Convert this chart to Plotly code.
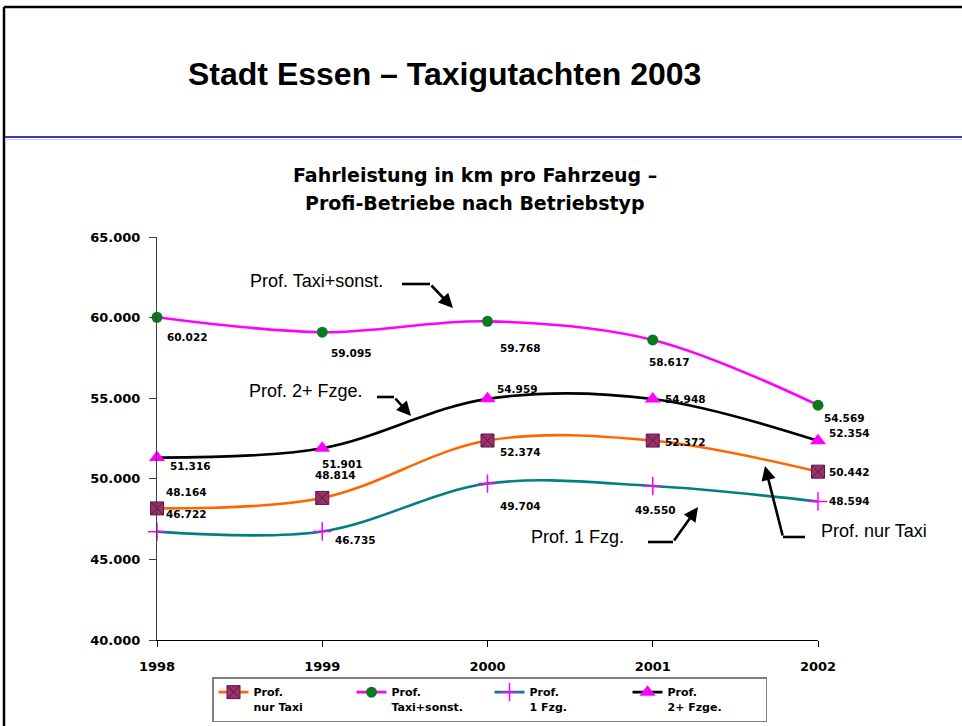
import plotly.graph_objects as go

# ---------------- data ----------------
years = [1998, 1999, 2000, 2001, 2002]
nur_taxi = [48164, 48814, 52374, 52372, 50442]
taxi_sonst = [60022, 59095, 59768, 58617, 54569]
fzg_1 = [46722, 46735, 49704, 49550, 48594]
fzge_2 = [51316, 51901, 54959, 54948, 52354]
series_names = ["Prof.<br>nur Taxi", "Prof.<br>Taxi+sonst.", "Prof.<br>1 Fzg.", "Prof.<br>2+ Fzge."]
y_ticks = [40000, 45000, 50000, 55000, 60000, 65000]
main_title = "Stadt Essen – Taxigutachten 2003"
chart_title_lines = ["Fahrleistung in km pro Fahrzeug –", "Profi-Betriebe nach Betriebstyp"]
callout_texts = ["Prof. Taxi+sonst.", "Prof. 2+ Fzge.", "Prof. 1 Fzg.", "Prof. nur Taxi"]

# ---------------- layout geometry (pixels) ----------------
W, H = 962, 726
L, R, T, B = 157, 144, 237, 86
PW, PH = W - L - R, H - T - B


def px(xp):
    return (xp - L) / PW


def py(yp):
    return (H - B - yp) / PH


BOLD = "DejaVu Sans"
SANS = "Liberation Sans, Arial, sans-serif"

# label offsets (xshift, yshift) per point, px
off_taxi = [(7, 16), (-9, 23), (10, -11), (10, -1), (9, 0)]
off_sonst = [(8, -20), (7, -21), (10, -27), (-6, -22), (4, -13)]
off_fzg1 = [(7, 18), (11, -9), (10, -22), (-20, -24), (9, 0)]
off_fzge2 = [(11, -8), (-2, -16), (7, 10), (10, 0), (9, 8)]

series = [
    dict(name=series_names[0], y=nur_taxi, color="#FF6600",
         marker=dict(symbol="square-x", size=13, color="#993366",
                     line=dict(color="#5A1450", width=1)), offs=off_taxi),
    dict(name=series_names[1], y=taxi_sonst, color="#FF00FF",
         marker=dict(symbol="circle", size=11, color="#0B7A1E",
                     line=dict(color="#0B7A1E", width=0)), offs=off_sonst),
    dict(name=series_names[2], y=fzg_1, color="#008080",
         marker=dict(symbol="cross-thin", size=13, color="#FF00FF",
                     line=dict(color="#FF00FF", width=1.5)), offs=off_fzg1),
    dict(name=series_names[3], y=fzge_2, color="#000000",
         marker=dict(symbol="triangle-up", size=14, color="#FF00FF",
                     line=dict(color="#FF00FF", width=0)), offs=off_fzge2),
]

fig = go.Figure()
annotations = []


def fmt(v):
    return f"{v:,}".replace(",", ".")


for s in series:
    fig.add_trace(go.Scatter(
        x=years, y=s["y"], name=s["name"], mode="lines+markers",
        line=dict(color=s["color"], width=2.6, shape="spline", smoothing=1.0),
        marker=s["marker"], cliponaxis=False, hoverinfo="skip",
    ))
    for xv, yv, (dx, dy) in zip(years, s["y"], s["offs"]):
        annotations.append(dict(
            x=xv, y=yv, xref="x", yref="y", text=fmt(yv), showarrow=False,
            xanchor="left", yanchor="middle", xshift=dx, yshift=dy,
            font=dict(family=BOLD, size=10.5, color="#000000", weight="bold"),
        ))

# titles
annotations.append(dict(x=px(444), y=py(74), xref="paper", yref="paper",
                        text=main_title, showarrow=False, xanchor="center",
                        yanchor="middle",
                        font=dict(family=SANS, size=32, color="#000000", weight="bold")))
for line, yc in zip(chart_title_lines, [175, 203]):
    annotations.append(dict(x=px(475), y=py(yc), xref="paper", yref="paper",
                            text=line, showarrow=False, xanchor="center",
                            yanchor="middle",
                            font=dict(family=BOLD, size=19, color="#000000", weight="bold")))

# callout texts
callout_pos = [(248, 281), (247, 391), (529, 537), (819, 531)]
for txt, (cx, cy) in zip(callout_texts, callout_pos):
    annotations.append(dict(x=px(cx), y=py(cy), xref="paper", yref="paper",
                            text=txt, showarrow=False, xanchor="left",
                            yanchor="middle",
                            font=dict(family=SANS, size=18, color="#000000")))

# callout arrows: horizontal leg (shape) + diagonal leg with head (annotation)
arrow_paths = [
    ((402, 284), (430, 284), (453, 308)),
    ((377, 397), (394, 397), (411, 416)),
    ((648, 542), (673, 542), (698, 507)),
    ((805, 537), (783, 537), (765, 466)),
]
shapes = []
for (a, b, c) in arrow_paths:
    shapes.append(dict(type="line", xref="paper", yref="paper",
                       x0=px(a[0]), y0=py(a[1]), x1=px(b[0]), y1=py(b[1]),
                       line=dict(color="#000000", width=2.6)))
    annotations.append(dict(x=px(c[0]), y=py(c[1]), xref="paper", yref="paper",
                            ax=b[0] - c[0], ay=b[1] - c[1], axref="pixel", ayref="pixel",
                            text="", showarrow=True, arrowhead=2, arrowsize=1.1,
                            arrowwidth=2.6, arrowcolor="#000000",
                            standoff=0, startstandoff=0))

# frame and header separator
shapes += [
    dict(type="line", xref="paper", yref="paper", x0=px(4), y0=py(7), x1=px(4), y1=py(H + 5),
         line=dict(color="#000000", width=2.5)),
    dict(type="line", xref="paper", yref="paper", x0=px(4), y0=py(7), x1=px(W + 5), y1=py(7),
         line=dict(color="#000000", width=2.5)),
    dict(type="line", xref="paper", yref="paper", x0=px(5), y0=py(137), x1=px(W + 5), y1=py(137),
         line=dict(color="#3C3CB4", width=2)),
    dict(type="line", xref="paper", yref="paper", x0=px(5), y0=py(139.5), x1=px(W + 5), y1=py(139.5),
         line=dict(color="#D4D4F2", width=1.5)),
]

fig.update_layout(
    width=W, height=H,
    margin=dict(l=L, r=R, t=T, b=B, autoexpand=False),
    paper_bgcolor="#FFFFFF", plot_bgcolor="#FFFFFF",
    separators=",.",
    showlegend=True,
    legend=dict(orientation="h", x=px(212), y=py(677), xanchor="left", yanchor="top",
                bordercolor="#808080", borderwidth=1.5, bgcolor="#FFFFFF",
                font=dict(family=BOLD, size=11, color="#000000", weight="bold"),
                valign="top", entrywidth=93, itemwidth=30, traceorder="normal"),
    xaxis=dict(range=[years[0], years[-1]], tickvals=years, ticktext=[str(y) for y in years],
               showgrid=False, zeroline=False, showline=True, linecolor="#000000",
               linewidth=1, ticks="outside", ticklen=6, tickcolor="#000000",
               ticklabelstandoff=8,
               tickfont=dict(family=BOLD, size=13, color="#000000", weight="bold")),
    yaxis=dict(range=[y_ticks[0], y_ticks[-1]], tickvals=y_ticks, tickformat=",d",
               showgrid=False, zeroline=False, showline=True, linecolor="#404040",
               linewidth=1, ticks="outside", ticklen=7, tickcolor="#404040",
               ticklabelstandoff=6,
               tickfont=dict(family=BOLD, size=13, color="#000000", weight="bold")),
    annotations=annotations,
    shapes=shapes,
)

fig.write_html("out.html", config={"displayModeBar": False},
               post_script="document.body.style.margin='0';document.body.style.overflow='hidden';")
